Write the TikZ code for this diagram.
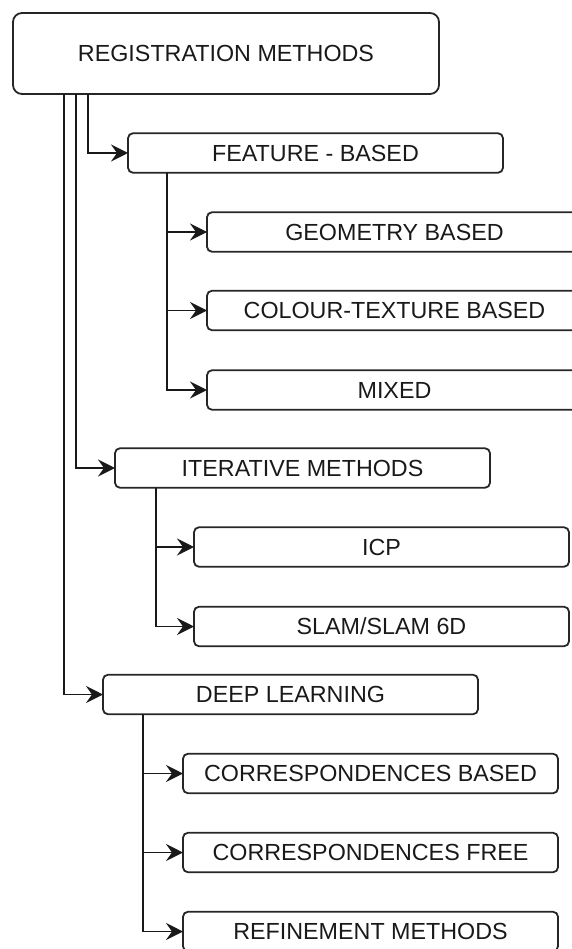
\documentclass[tikz,border=0pt]{standalone}
\usepackage{fontspec}
\setmainfont{Liberation Sans}
\usetikzlibrary{arrows.meta}
\begin{document}
\begin{tikzpicture}[x=1pt,y=-1pt,
  box/.style={draw=black!85, line width=1.8pt, rounded corners=5pt, inner sep=0pt, outer sep=0pt,
    minimum width=375pt, minimum height=39.5pt, anchor=west,
    font=\fontsize{23.3}{28}\selectfont, text height=16.7pt, text depth=0pt, text=black!90},
  conn/.style={line width=1.8pt, draw=black!90, -{Stealth[length=17pt,width=17pt,inset=6pt]}}]
\useasboundingbox (0,0) rectangle (572,949);
\clip (0,0) rectangle (572,949);
\node[box, minimum width=426pt, minimum height=81pt, rounded corners=9pt, anchor=center] (root) at (226,53.5) {REGISTRATION METHODS};
\node[box] (feat) at (128,153) {FEATURE - BASED};
\node[box] (geo) at (207,232) {GEOMETRY BASED};
\node[box] (col) at (207,310.5) {COLOUR-TEXTURE BASED};
\node[box] (mix) at (207,390) {MIXED};
\node[box] (iter) at (115,468) {ITERATIVE METHODS};
\node[box] (icp) at (194,547) {ICP};
\node[box] (slam) at (194,626.5) {SLAM/SLAM 6D};
\node[box] (deep) at (103,694.5) {DEEP LEARNING};
\node[box] (cb) at (183,773.5) {CORRESPONDENCES BASED};
\node[box] (cf) at (183,852.5) {CORRESPONDENCES FREE};
\node[box] (ref) at (183,931.5) {REFINEMENT METHODS};
\draw[conn] ([xshift=75pt]root.south west) |- (feat.west);
\draw[conn] ([xshift=63pt]root.south west) |- (iter.west);
\draw[conn] ([xshift=51pt]root.south west) |- (deep.west);
\draw[conn] ([xshift=39pt]feat.south west) |- (geo.west);
\draw[conn] ([xshift=39pt]feat.south west) |- (col.west);
\draw[conn] ([xshift=39pt]feat.south west) |- (mix.west);
\draw[conn] ([xshift=41pt]iter.south west) |- (icp.west);
\draw[conn] ([xshift=41pt]iter.south west) |- (slam.west);
\draw[conn] ([xshift=40pt]deep.south west) |- (cb.west);
\draw[conn] ([xshift=40pt]deep.south west) |- (cf.west);
\draw[conn] ([xshift=40pt]deep.south west) |- (ref.west);
\end{tikzpicture}
\end{document}
